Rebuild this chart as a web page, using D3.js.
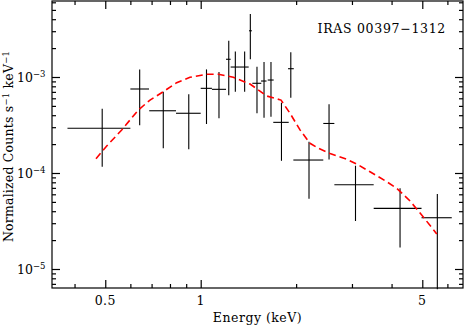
<!DOCTYPE html>
<html>
<head>
<meta charset="utf-8">
<script src="https://cdn.jsdelivr.net/npm/d3@7"></script>
<style>
  html, body { margin: 0; padding: 0; background: #fff; }
  svg { display: block; }
  text { font-family: "DejaVu Serif", "Liberation Serif", serif; fill: #000; }
</style>
</head>
<body>
<svg id="chart" width="464" height="325"></svg>
<script>
// ---- data ----
const energy   = [0.489, 0.642, 0.762, 0.917, 1.043, 1.142, 1.226, 1.286, 1.376, 1.434, 1.505, 1.584, 1.666, 1.924, 1.798, 2.196, 2.54, 3.078, 4.254, 5.577];
const energyLo = [0.380, 0.600, 0.688, 0.836, 1.000, 1.085, 1.202, 1.243, 1.330, 1.420, 1.455, 1.550, 1.627, 1.886, 1.694, 1.960, 2.436, 2.640, 3.513, 4.972];
const energyHi = [0.600, 0.687, 0.836, 1.000, 1.085, 1.202, 1.243, 1.330, 1.417, 1.450, 1.553, 1.613, 1.699, 1.966, 1.895, 2.436, 2.640, 3.513, 4.972, 6.193];
const counts   = [2.92e-4, 7.5e-4, 4.45e-4, 4.19e-4, 7.62e-4, 7.44e-4, 1.53e-3, 1.27e-3, 1.27e-3, 3.03e-3, 8.6e-4, 9.08e-4, 9.3e-4, 1.22e-3, 3.37e-4, 1.365e-4, 3.28e-4, 7.55e-5, 4.28e-5, 3.42e-5];
const countsLo = [1.16e-4, 3.14e-4, 1.81e-4, 1.77e-4, 3.24e-4, 3.71e-4, 6.45e-4, 7.03e-4, 7.03e-4, 1.53e-3, 4.19e-4, 3.77e-4, 3.85e-4, 6.08e-4, 1.34e-4, 5.4e-5, 1.38e-4, 3.16e-5, 1.67e-5, 6.15e-6];
const countsHi = [4.68e-4, 1.20e-3, 7.03e-4, 6.6e-4, 1.20e-3, 1.127e-3, 2.39e-3, 1.84e-3, 1.84e-3, 4.53e-3, 1.28e-3, 1.43e-3, 1.43e-3, 1.81e-3, 5.40e-4, 2.12e-4, 5.2e-4, 1.19e-4, 6.93e-5, 6.04e-5];

const modelEnergy = [0.4675, 0.5053, 0.5634, 0.6357, 0.692, 0.762, 0.840, 0.925, 1.044, 1.137, 1.267, 1.431, 1.615, 1.792, 1.913, 2.057, 2.212, 2.35, 2.558, 2.888, 3.105, 3.42, 3.863, 4.153, 4.574, 4.80, 5.037, 5.553];
const modelCounts = [1.41e-4, 1.91e-4, 2.81e-4, 4.53e-4, 5.75e-4, 7.03e-4, 8.73e-4, 9.93e-4, 1.07e-3, 1.07e-3, 9.93e-4, 8.45e-4, 6.34e-4, 5.75e-4, 4.19e-4, 2.81e-4, 2.04e-4, 1.81e-4, 1.60e-4, 1.39e-4, 1.24e-4, 1.03e-4, 8.12e-5, 6.93e-5, 5.11e-5, 4.22e-5, 3.48e-5, 2.32e-5];

const xMajorTicks = [0.5, 1, 5];
const xMajorLabels = ["0.5", "1", "5"];
const xMinorTicks = [0.4, 0.6, 0.7, 0.8, 0.9, 2, 3, 4, 6];
const yMajorTicks = [1e-5, 1e-4, 1e-3];
const yMajorExponents = ["−5", "−4", "−3"];
const yMinorTicks = [7e-6, 8e-6, 9e-6, 2e-5, 3e-5, 4e-5, 5e-5, 6e-5, 7e-5, 8e-5, 9e-5,
                     2e-4, 3e-4, 4e-4, 5e-4, 6e-4, 7e-4, 8e-4, 9e-4, 2e-3, 3e-3, 4e-3, 5e-3, 6e-3];

const titleText = "IRAS 00397−1312";
const xTitle = "Energy (keV)";

// ---- layout ----
const svg = d3.select("#chart");
const L = 52, R = 463, T = 1, B = 288;

const x = d3.scaleLog().domain([0.3396, 6.72]).range([L, R]);
const y = d3.scaleLog().domain([6.34e-6, 6.19e-3]).range([B, T]);

// frame
svg.append("rect").attr("x", L).attr("y", T).attr("width", R - L).attr("height", B - T)
  .attr("fill", "none").attr("stroke", "#000").attr("stroke-width", 1.2);

function axisTicks(axisGen, values, size, transform) {
  const g = svg.append("g").attr("transform", transform)
    .call(axisGen.tickValues(values).tickSize(size).tickSizeOuter(0).tickFormat(""));
  g.select(".domain").remove();
  g.selectAll("line").attr("stroke", "#000").attr("stroke-width", 1.2);
  return g;
}
// x ticks bottom (inward) and top (inward)
axisTicks(d3.axisBottom(x), xMajorTicks, -8, `translate(0,${B})`);
axisTicks(d3.axisBottom(x), xMinorTicks, -4, `translate(0,${B})`);
axisTicks(d3.axisTop(x), xMajorTicks, -8, `translate(0,${T})`);
axisTicks(d3.axisTop(x), xMinorTicks, -4, `translate(0,${T})`);
// y ticks left and right
axisTicks(d3.axisLeft(y), yMajorTicks, -8, `translate(${L},0)`);
axisTicks(d3.axisLeft(y), yMinorTicks, -4, `translate(${L},0)`);
axisTicks(d3.axisRight(y), yMajorTicks, -8, `translate(${R},0)`);
axisTicks(d3.axisRight(y), yMinorTicks, -4, `translate(${R},0)`);

// x tick labels
svg.append("g").selectAll("text").data(xMajorTicks).join("text")
  .attr("x", d => x(d)).attr("y", 305).attr("text-anchor", "middle")
  .attr("font-size", 12.5).attr("letter-spacing", 0.4).text((d, i) => xMajorLabels[i]);

// y tick labels 10^n
const yl = svg.append("g").selectAll("text").data(yMajorTicks).join("text")
  .attr("x", 17).attr("y", d => y(d) + 4.5).attr("font-size", 12.5);
yl.append("tspan").text("10");
yl.append("tspan").attr("font-size", 8.5).attr("dy", -5).text((d, i) => yMajorExponents[i]);

// axis titles
svg.append("text").attr("x", (L + R) / 2).attr("y", 322).attr("text-anchor", "middle")
  .attr("font-size", 12.5).attr("letter-spacing", 0.5).text(xTitle);

const yt = svg.append("text").attr("transform", `translate(13,${(T + B) / 2 + 2}) rotate(-90)`)
  .attr("text-anchor", "middle").attr("font-size", 12.5).attr("letter-spacing", 0.2);
yt.append("tspan").text("Normalized Counts s");
yt.append("tspan").attr("font-size", 8.5).attr("dy", -4).text("−1");
yt.append("tspan").attr("dy", 4).text(" keV");
yt.append("tspan").attr("font-size", 8.5).attr("dy", -4).text("−1");

// label
svg.append("text").attr("x", 446).attr("y", 33).attr("text-anchor", "end")
  .attr("font-size", 12.5).attr("letter-spacing", 0.7).text(titleText);

// ---- data crosses ----
const idx = d3.range(energy.length);
const pts = svg.append("g").attr("stroke", "#000").attr("stroke-width", 1.1);
pts.selectAll("line.h").data(idx).join("line").attr("class", "h")
  .attr("x1", i => x(energyLo[i])).attr("x2", i => x(energyHi[i]))
  .attr("y1", i => y(counts[i])).attr("y2", i => y(counts[i]));
pts.selectAll("line.v").data(idx).join("line").attr("class", "v")
  .attr("x1", i => x(energy[i])).attr("x2", i => x(energy[i]))
  .attr("y1", i => y(countsLo[i])).attr("y2", i => y(countsHi[i]));

// ---- model ----
const line = d3.line().x((d, i) => x(modelEnergy[i])).y((d, i) => y(modelCounts[i]));
svg.append("path").attr("d", line(modelEnergy))
  .attr("fill", "none").attr("stroke", "#ff0000").attr("stroke-width", 1.6)
  .attr("stroke-dasharray", "7,4");
</script>
</body>
</html>
